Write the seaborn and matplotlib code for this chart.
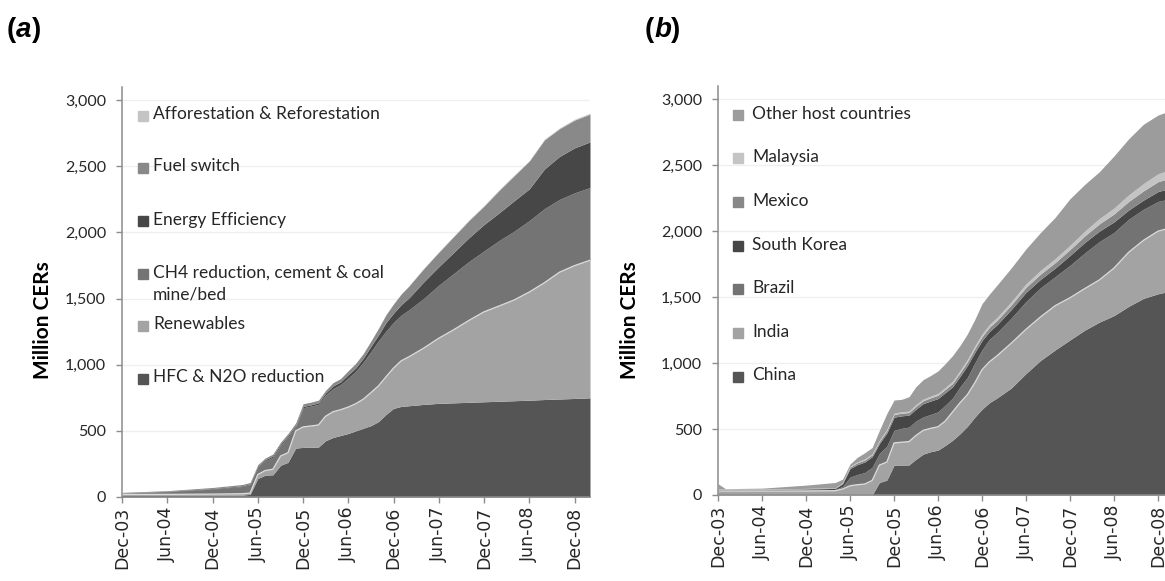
import matplotlib

matplotlib.use("Agg")

import matplotlib.dates as mdates
import matplotlib.pyplot as plt
import numpy as np
import pandas as pd
import seaborn as sns
from matplotlib.patches import Rectangle
from matplotlib.ticker import FixedLocator, StrMethodFormatter

# ---- panel (a): cumulative CERs by project type (million) ----
dates_a = pd.to_datetime([
    "2003-12", "2004-06", "2004-12", "2005-04", "2005-05", "2005-06", "2005-07", "2005-08",
    "2005-09", "2005-10", "2005-11", "2005-12", "2006-01", "2006-02", "2006-03", "2006-04",
    "2006-05", "2006-06", "2006-07", "2006-08", "2006-09", "2006-10", "2006-11", "2006-12",
    "2007-01", "2007-02", "2007-04", "2007-06", "2007-08", "2007-10", "2007-12", "2008-02",
    "2008-04", "2008-06", "2008-08", "2008-10", "2008-12", "2009-02",
])
hfc_n2o = [15, 15, 15, 15, 20, 140, 165, 168, 240, 262, 370, 375, 376, 378, 425, 450, 465, 480, 500,
           520, 540, 570, 625, 670, 685, 690, 700, 708, 712, 716, 720, 724, 728, 732, 737, 741, 745, 750]
renewables = [5, 5, 7, 10, 10, 30, 35, 42, 70, 73, 130, 155, 161, 167, 185, 195, 195, 200, 205, 220,
              250, 270, 285, 305, 345, 370, 425, 492, 553, 619, 680, 721, 762, 818, 883, 959, 1005, 1040]
ch4_cement_coal = [10, 20, 38, 55, 65, 60, 75, 90, 80, 120, 30, 145, 150, 155, 160, 175, 190, 220, 245,
                   280, 310, 340, 345, 345, 345, 355, 375, 400, 425, 445, 460, 495, 520, 540, 560, 550, 550, 550]
energy_efficiency = [2, 3, 4, 5, 5, 5, 8, 10, 10, 10, 10, 10, 10, 12, 15, 20, 20, 25, 25, 30, 40, 45, 65,
                     70, 80, 90, 125, 140, 160, 180, 200, 210, 230, 240, 300, 325, 340, 345]
fuel_switch = [3, 5, 8, 10, 10, 10, 12, 15, 15, 15, 20, 20, 20, 20, 20, 25, 25, 30, 35, 35, 40, 50, 60,
               70, 80, 90, 100, 110, 120, 130, 140, 170, 190, 210, 220, 210, 210, 210]
afforestation = [0, 0, 0, 0, 0, 0, 0, 0, 0, 0, 0, 0, 0, 0, 0, 0, 0, 0, 1, 1, 1, 2, 2, 2, 2, 3, 3, 3,
                 4, 4, 4, 5, 5, 5, 6, 6, 7, 7]

# ---- panel (b): cumulative CERs by host country (million) ----
dates_b = pd.to_datetime([
    "2003-12", "2004-01", "2004-06", "2004-12", "2005-04", "2005-05", "2005-06", "2005-07",
    "2005-08", "2005-09", "2005-10", "2005-11", "2005-12", "2006-01", "2006-02", "2006-03",
    "2006-04", "2006-05", "2006-06", "2006-07", "2006-08", "2006-09", "2006-10", "2006-11",
    "2006-12", "2007-01", "2007-02", "2007-04", "2007-06", "2007-08", "2007-10", "2007-12",
    "2008-02", "2008-04", "2008-06", "2008-08", "2008-10", "2008-12", "2009-02",
])
china = [0, 0, 0, 0, 0, 0, 0, 0, 0, 0, 95, 113, 227, 227, 228, 270, 310, 328, 340, 375, 415, 465, 520,
         590, 650, 700, 735, 810, 920, 1020, 1100, 1175, 1250, 1310, 1360, 1430, 1490, 1525, 1550]
india = [30, 30, 30, 30, 33, 45, 70, 78, 83, 110, 132, 137, 168, 173, 177, 180, 180, 177, 177, 185, 215,
         235, 240, 260, 300, 310, 320, 340, 335, 330, 335, 320, 315, 320, 360, 410, 440, 475, 480]
brazil = [5, 5, 5, 8, 9, 20, 65, 77, 87, 100, 88, 120, 95, 105, 110, 110, 102, 105, 113, 120, 105, 120,
          130, 150, 150, 170, 175, 190, 210, 220, 220, 245, 270, 290, 270, 250, 235, 225, 220]
south_korea = [5, 5, 5, 7, 8, 20, 65, 75, 80, 80, 75, 100, 100, 95, 90, 90, 101, 102, 101, 95, 85, 80,
               90, 80, 70, 60, 60, 65, 70, 65, 65, 75, 80, 80, 80, 70, 70, 75, 80]
mexico = [3, 3, 3, 3, 4, 6, 12, 14, 15, 15, 16, 18, 20, 20, 20, 22, 22, 24, 25, 25, 26, 27, 28, 30, 30,
          32, 33, 35, 38, 40, 42, 45, 50, 55, 60, 65, 70, 75, 78]
malaysia = [2, 2, 2, 2, 2, 3, 6, 7, 8, 8, 9, 10, 10, 11, 11, 12, 12, 13, 14, 15, 16, 17, 18, 19, 20, 21,
            22, 24, 26, 28, 30, 32, 36, 40, 45, 50, 55, 60, 64]
other_hosts = [40, 3, 7, 25, 39, 26, 17, 34, 47, 47, 75, 120, 100, 94, 109, 136, 148, 156, 170, 180, 195,
               190, 194, 201, 230, 230, 245, 256, 265, 287, 313, 353, 354, 355, 395, 425, 450, 445, 448]

labels_a = ["HFC & N2O reduction", "Renewables", "CH4 reduction, cement & coal\nmine/bed",
            "Energy Efficiency", "Fuel switch", "Afforestation & Reforestation"]
colors_a = ["#555555", "#a3a3a3", "#747474", "#474747", "#898989", "#c4c4c4"]
labels_b = ["China", "India", "Brazil", "South Korea", "Mexico", "Malaysia", "Other host countries"]
colors_b = ["#555555", "#a3a3a3", "#737373", "#464646", "#888888", "#c4c4c4", "#9c9c9c"]

W, H = 1165, 581
TEXT = "#262626"
AXIS = "#8c8c8c"

sns.set_theme(style="white")
plt.rcParams["font.family"] = ["Lato", "DejaVu Sans"]

fig = plt.figure(figsize=(W / 100, H / 100), dpi=100)


def add_axes_px(left, right, top, bottom):
    return fig.add_axes([left / W, 1 - bottom / H, (right - left) / W, (bottom - top) / H])


def style(ax):
    ax.set_xlim(pd.Timestamp("2003-12-01"), pd.Timestamp("2009-02-01"))
    ax.set_ylim(0, 3100)
    ax.yaxis.set_major_locator(FixedLocator(range(0, 3001, 500)))
    ax.yaxis.set_major_formatter(StrMethodFormatter("{x:,.0f}"))
    ax.xaxis.set_major_locator(mdates.MonthLocator(bymonth=(6, 12)))
    ax.xaxis.set_major_formatter(mdates.DateFormatter("%b-%y"))
    ax.grid(axis="y", color="#efefef", linewidth=0.9)
    ax.set_axisbelow(True)
    for side in ("top", "right"):
        ax.spines[side].set_visible(False)
    for side in ("left", "bottom"):
        ax.spines[side].set_color(AXIS)
        ax.spines[side].set_linewidth(1.1)
    ax.tick_params(axis="y", left=True, length=4.5, width=1, color=AXIS, pad=7,
                   labelsize=11.5, labelcolor=TEXT)
    ax.tick_params(axis="x", bottom=True, length=4, width=1, color=AXIS, pad=3,
                   labelsize=12.5, labelcolor=TEXT, labelrotation=90)
    for lab in ax.get_xticklabels():
        lab.set_fontfamily("DejaVu Sans")
    ax.set_xlabel("")
    ax.set_ylabel("Million CERs", fontsize=15, fontweight="bold", color="black")


def draw_key(ax, box, labels, colors, rows_px, marker_px, text_px):
    left, right, top, bottom = box
    w, h = right - left, bottom - top
    size = 9.5
    for label, color, y in zip(labels, colors, rows_px):
        ax.add_patch(Rectangle(((marker_px - left) / w, (bottom - y - size / 2) / h), size / w, size / h,
                               transform=ax.transAxes, color=color, clip_on=False, zorder=5))
        ax.text((text_px - left) / w, (bottom - y + 9.5) / h, label, transform=ax.transAxes,
                ha="left", va="top", fontsize=12.5, color=TEXT, linespacing=1.45, zorder=5)


def panel_tag(ax, x_px, letter):
    kw = dict(fontsize=20, fontweight="bold", family="Liberation Sans", color="black")
    first = fig.text(x_px / W, 1 - 30 / H, "(", va="center", **kw)
    mid = ax.annotate(letter, xy=(1, 0), xycoords=first, va="bottom", fontstyle="italic",
                      annotation_clip=False, **kw)
    ax.annotate(")", xy=(1, 0), xycoords=mid, va="bottom", annotation_clip=False, **kw)


# ---- panel (a) ----
box_a = (122, 590, 87, 497)
ax_a = add_axes_px(*box_a)
ax_a.stackplot(dates_a, hfc_n2o, renewables, ch4_cement_coal, energy_efficiency, fuel_switch,
               afforestation, colors=colors_a, linewidth=0)
sns.lineplot(x=dates_a, y=np.add(hfc_n2o, renewables), ax=ax_a, color="#dedede", linewidth=0.9)
style(ax_a)
ax_a.yaxis.set_label_coords((53 - 122) / 468, (497 - 320) / 410)
draw_key(ax_a, box_a, labels_a[::-1], colors_a[::-1], [116, 168, 221, 274, 326, 379], 138, 153)
panel_tag(ax_a, 7, "a")

# ---- panel (b): axes run past the right edge, as in the cropped original ----
box_b = (718, 1173, 86, 495)
ax_b = add_axes_px(*box_b)
ax_b.stackplot(dates_b, china, india, brazil, south_korea, mexico, malaysia, other_hosts,
               colors=colors_b, linewidth=0)
sns.lineplot(x=dates_b, y=np.add(china, india), ax=ax_b, color="#dedede", linewidth=0.9)
style(ax_b)
ax_b.yaxis.set_label_coords((640 - 718) / 455, (495 - 320) / 409)
draw_key(ax_b, box_b, labels_b[::-1], colors_b[::-1], [115, 158, 202, 246, 289, 333, 377], 733, 752)
panel_tag(ax_b, 645, "b")

fig.savefig("out.png", dpi=100, facecolor="white")
